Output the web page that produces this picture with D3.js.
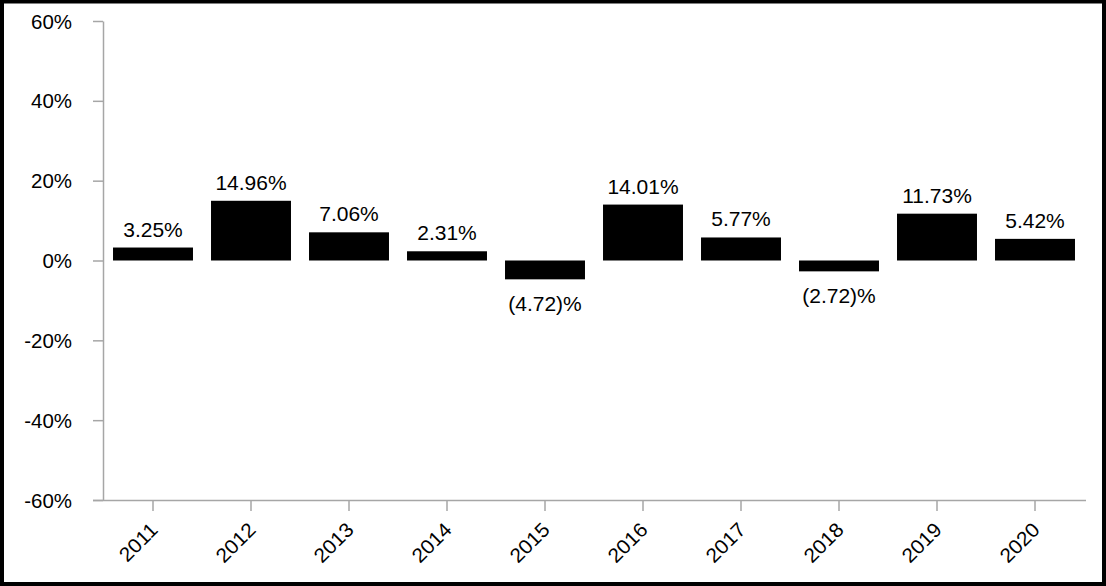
<!DOCTYPE html>
<html>
<head>
<meta charset="utf-8">
<script src="https://cdn.jsdelivr.net/npm/d3@7"></script>
<style>
  html, body { margin: 0; padding: 0; background: #fff; }
  svg { display: block; }
</style>
</head>
<body>
<svg id="chart" width="1106" height="586"></svg>
<script>
const years = ['2011', '2012', '2013', '2014', '2015', '2016', '2017', '2018', '2019', '2020'];
const returns = [3.25, 14.96, 7.06, 2.31, -4.72, 14.01, 5.77, -2.72, 11.73, 5.42];
const y_ticks = [-60, -40, -20, 0, 20, 40, 60];

const width = 1106;
const height = 586;
const axisColor = '#a6a6a6';
const fontFamily = 'Liberation Sans, Arial, sans-serif';
const stretch = 1.05; // the reference text is a touch wider than Arial

const svg = d3.select('#chart');

// outer frame
svg.append('rect')
    .attr('x', 2)
    .attr('y', 1.5)
    .attr('width', width - 4)
    .attr('height', height - 3.5)
    .attr('fill', '#fff')
    .attr('stroke', '#000')
    .attr('stroke-width', 4);

const xScale = d3.scaleBand().domain(years).range([104, 1084]).paddingInner(0.184).paddingOuter(0.092);
const yScale = d3.scaleLinear().domain([-60, 60]).range([500, 21]);

const fmt = v => v < 0 ? `(${Math.abs(v).toFixed(2)})%` : `${v.toFixed(2)}%`;

// Left axis
const yAxis = svg.append('g')
    .attr('transform', 'translate(103, 0)')
    .call(d3.axisLeft(yScale).tickValues(y_ticks).tickSize(10).tickSizeOuter(0).tickFormat(d => d + '%'));
yAxis.select('.domain').attr('stroke', axisColor).attr('stroke-width', 1.5);
yAxis.selectAll('.tick line').attr('stroke', axisColor).attr('stroke-width', 1.5);
yAxis.selectAll('.tick text')
    .attr('font-family', fontFamily)
    .attr('font-size', 19.5)
    .attr('fill', '#000')
    .attr('x', 0)
    .attr('dy', '0.36em')
    .attr('transform', `translate(-31, 0) scale(${stretch}, 1)`);

// Bottom axis
const xAxis = svg.append('g')
    .attr('transform', `translate(0, ${yScale(-60)})`)
    .call(d3.axisBottom(xScale).tickSize(11).tickSizeOuter(0));
xAxis.select('.domain').attr('d', 'M93,0.5H1086').attr('stroke', axisColor).attr('stroke-width', 1.5);
xAxis.selectAll('.tick line').attr('stroke', axisColor).attr('stroke-width', 1.5);
xAxis.selectAll('.tick text')
    .attr('font-family', fontFamily)
    .attr('font-size', 20)
    .attr('fill', '#000')
    .attr('text-anchor', 'end')
    .attr('x', 0)
    .attr('y', 0)
    .attr('dy', '0.36em')
    .attr('transform', `translate(1, 26) rotate(-45) scale(${stretch}, 1)`);

// bars
svg.append('g')
    .selectAll('rect')
    .data(returns)
    .enter()
    .append('rect')
    .attr('x', (d, i) => xScale(years[i]))
    .attr('y', d => yScale(Math.max(0, d)))
    .attr('width', xScale.bandwidth())
    .attr('height', d => Math.abs(yScale(d) - yScale(0)))
    .attr('fill', '#000');

// value labels
svg.append('g')
    .selectAll('text')
    .data(returns)
    .enter()
    .append('text')
    .attr('text-anchor', 'middle')
    .attr('font-family', fontFamily)
    .attr('font-size', 20)
    .attr('fill', '#000')
    .attr('transform', (d, i) => {
        const x = xScale(years[i]) + xScale.bandwidth() / 2;
        const y = d >= 0 ? yScale(d) - 11 : yScale(d) + 32;
        return `translate(${x}, ${y}) scale(${stretch}, 1)`;
    })
    .text(d => fmt(d));
</script>
</body>
</html>
